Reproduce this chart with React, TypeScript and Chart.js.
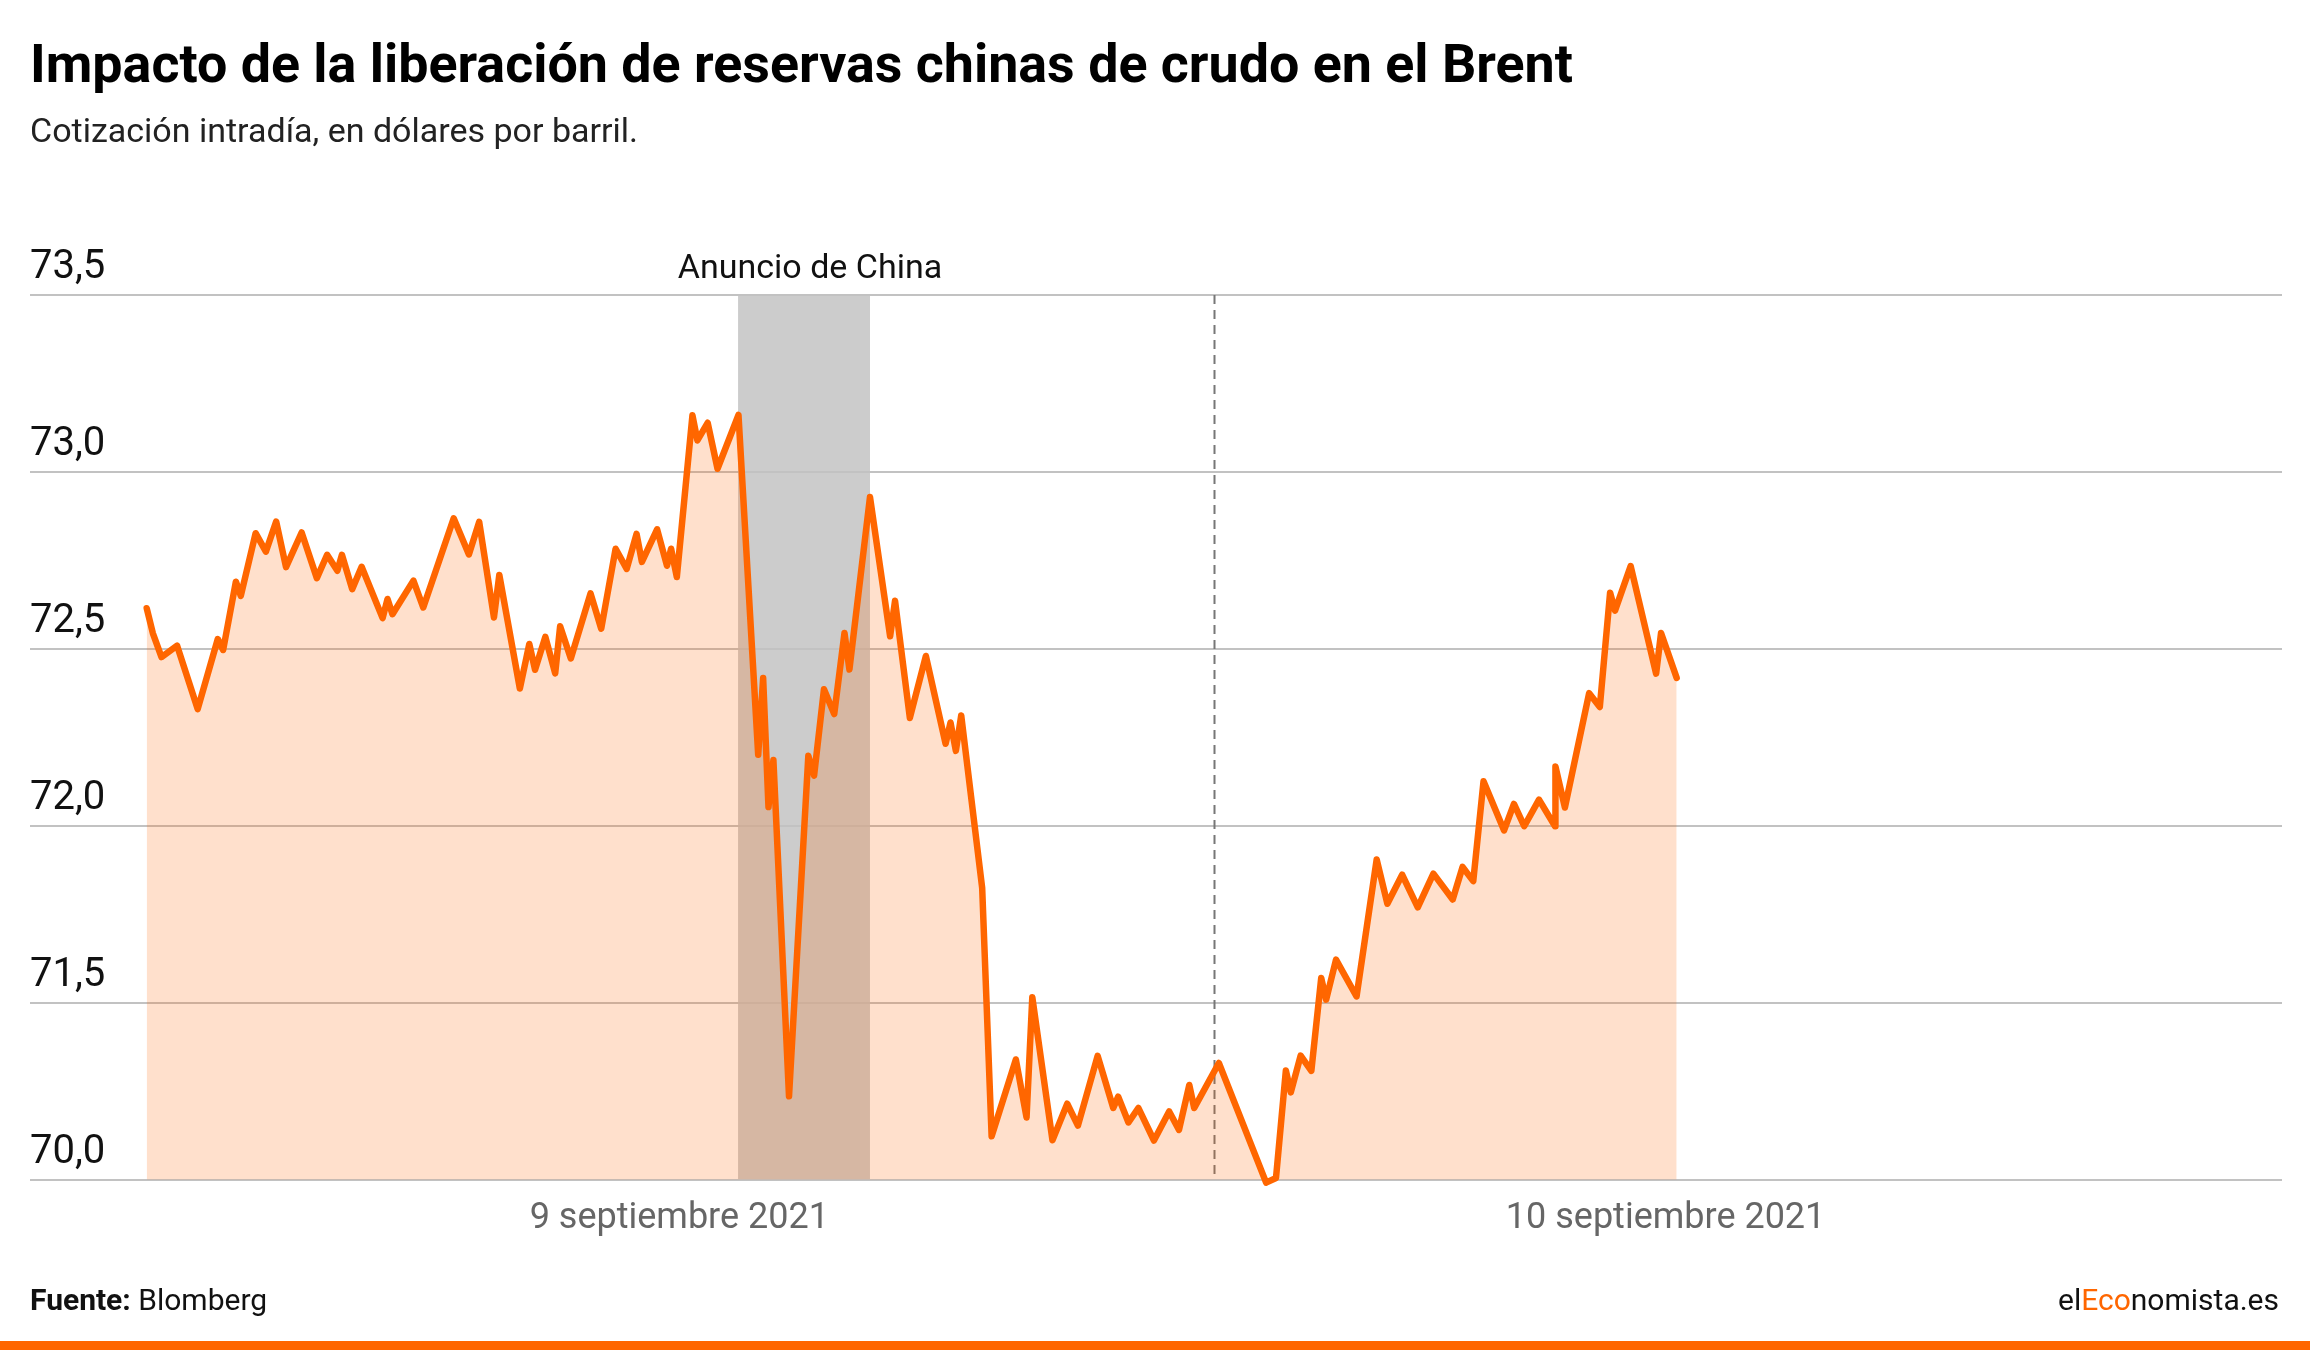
import React, { useEffect, useRef } from "react";
import { Chart, registerables } from "chart.js";

Chart.register(...registerables);

// Hours counted from 9 Sept 2021 00:00
const hours = [
  -1.96, -1.81, -1.6, -1.22, -0.72, -0.23, -0.1, 0.21, 0.33, 0.69,
  0.94, 1.19, 1.43, 1.81, 2.18, 2.43, 2.68, 2.79, 3.04, 3.27,
  3.78, 3.9, 4.02, 4.53, 4.77, 5.51, 5.88, 6.13, 6.49, 6.62,
  7.12, 7.35, 7.49, 7.74, 7.98, 8.1, 8.36, 8.84, 9.1, 9.45,
  9.72, 9.96, 10.09, 10.46, 10.7, 10.8, 10.94, 11.32, 11.44, 11.69,
  11.93, 12.44, 12.92, 13.04, 13.17, 13.29, 13.67, 14.14, 14.28, 14.52,
  14.77, 15.02, 15.14, 15.64, 16.13, 16.25, 16.61, 17.0, 17.48, 17.6,
  17.73, 17.86, 18.37, 18.6, 19.19, 19.45, 19.59, 20.08, 20.44, 20.7,
  21.18, 21.56, 21.68, 21.93, 22.17, 22.55, 22.92, 23.16, 23.41, 23.53,
  24.13, 25.28, 25.52, 25.76, 25.88, 26.12, 26.38, 26.62, 26.74, 26.98,
  27.48, 27.97, 28.23, 28.59, 28.97, 29.35, 29.82, 30.06, 30.32, 30.57,
  31.07, 31.31, 31.56, 31.92, 32.31, 32.32, 32.55, 33.14, 33.4, 33.65,
  33.77, 34.15, 34.77, 34.89, 35.27,
];

const brent = [
  72.615, 72.544, 72.477, 72.509, 72.33, 72.528, 72.497, 72.69, 72.65, 72.827,
  72.775, 72.86, 72.731, 72.829, 72.7, 72.766, 72.721, 72.766, 72.669, 72.732,
  72.587, 72.641, 72.598, 72.693, 72.617, 72.869, 72.767, 72.859, 72.589, 72.709,
  72.388, 72.514, 72.441, 72.534, 72.431, 72.564, 72.473, 72.657, 72.557, 72.783,
  72.726, 72.825, 72.746, 72.838, 72.735, 72.783, 72.703, 73.16, 73.089, 73.139,
  73.009, 73.161, 72.201, 72.418, 72.053, 72.186, 71.236, 72.198, 72.142, 72.386,
  72.316, 72.545, 72.442, 72.929, 72.536, 72.636, 72.305, 72.48, 72.232, 72.292,
  72.212, 72.312, 71.825, 71.123, 71.34, 71.176, 71.516, 71.112, 71.215, 71.153,
  71.35, 71.203, 71.235, 71.162, 71.203, 71.111, 71.193, 71.141, 71.268, 71.203,
  71.33, 70.992, 71.005, 71.309, 71.247, 71.351, 71.308, 71.57, 71.509, 71.622,
  71.518, 71.905, 71.78, 71.862, 71.77, 71.865, 71.792, 71.884, 71.844, 72.126,
  71.987, 72.062, 71.999, 72.074, 71.999, 72.168, 72.052, 72.375, 72.336, 72.659,
  72.608, 72.734, 72.43, 72.545, 72.418,
];

const yTickValues = [71, 71.5, 72, 72.5, 73, 73.5];
const yTickLabels = ["70,0", "71,5", "72,0", "72,5", "73,0", "73,5"];
const xTickValues = [11, 35];
const xTickLabels = ["9 septiembre 2021", "10 septiembre 2021"];

const announcementStart = 12.43;
const announcementEnd = 15.64;
const announcementLabel = "Anuncio de China";
const dayBreak = 24;

const FONT = "Roboto, 'Noto Sans', sans-serif";

const overlayPlugin = {
  id: "overlays",
  beforeDraw(chart: any) {
    const { ctx, chartArea, scales } = chart;
    const x0 = scales.x.getPixelForValue(announcementStart);
    const x1 = scales.x.getPixelForValue(announcementEnd);
    ctx.save();
    ctx.fillStyle = "#CCCCCC";
    ctx.fillRect(x0, chartArea.top, x1 - x0, chartArea.bottom - chartArea.top);
    ctx.restore();
  },
  beforeDatasetsDraw(chart: any) {
    const { ctx, chartArea, scales } = chart;
    const xd = Math.round(scales.x.getPixelForValue(dayBreak)) + 0.5;
    ctx.save();
    ctx.strokeStyle = "#777777";
    ctx.lineWidth = 2;
    ctx.setLineDash([9, 6]);
    ctx.beginPath();
    ctx.moveTo(xd, chartArea.top);
    ctx.lineTo(xd, chartArea.bottom);
    ctx.stroke();
    ctx.restore();

    const x0 = scales.x.getPixelForValue(announcementStart);
    const x1 = scales.x.getPixelForValue(announcementEnd);
    ctx.save();
    ctx.fillStyle = "#111111";
    ctx.font = `34px ${FONT}`;
    ctx.textAlign = "center";
    ctx.textBaseline = "alphabetic";
    ctx.fillText(announcementLabel, (x0 + x1) / 2 + 6, chartArea.top - 17);
    ctx.restore();
  },
};

function BrentChart() {
  const ref = useRef<HTMLCanvasElement | null>(null);
  useEffect(() => {
    if (!ref.current) return;
    const chart = new Chart(ref.current, {
      type: "line",
      data: {
        datasets: [
          {
            data: hours.map((h, i) => ({ x: h, y: brent[i] })),
            borderColor: "#FF6600",
            borderWidth: 6.5,
            borderJoinStyle: "round",
            borderCapStyle: "round",
            backgroundColor: "rgba(255,102,0,0.2)",
            fill: "start",
            pointRadius: 0,
            tension: 0,
            clip: 12,
          } as any,
        ],
      },
      options: {
        responsive: false,
        animation: false,
        events: [],
        layout: { padding: { left: 30, right: 28, top: 295, bottom: 91 } },
        plugins: {
          legend: { display: false },
          tooltip: { enabled: false },
          title: { display: false },
        },
        scales: {
          x: {
            type: "linear",
            min: -4.8,
            max: 50,
            border: { display: false },
            grid: { display: false, drawTicks: false },
            afterBuildTicks: (axis: any) => {
              axis.ticks = xTickValues.map((v) => ({ value: v }));
            },
            ticks: {
              autoSkip: false,
              maxRotation: 0,
              padding: 18,
              color: "#666666",
              font: { family: FONT, size: 36 },
              callback: (_v: any, i: number) => xTickLabels[i],
            },
          },
          y: {
            type: "linear",
            min: 71,
            max: 73.5,
            border: { display: false },
            grid: { color: "#C2C2C2", lineWidth: 2, drawTicks: false },
            afterBuildTicks: (axis: any) => {
              axis.ticks = yTickValues.map((v) => ({ value: v }));
            },
            ticks: {
              mirror: true,
              padding: 0,
              labelOffset: -27,
              color: "#111111",
              font: { family: FONT, size: 40 },
              callback: (_v: any, i: number) => yTickLabels[i],
            },
          },
        },
      },
      plugins: [overlayPlugin],
    });
    return () => chart.destroy();
  }, []);
  return (
    <canvas
      ref={ref}
      width={2310}
      height={1350}
      style={{ position: "absolute", left: 0, top: 0, width: 2310, height: 1350 }}
    />
  );
}

export default function App() {
  const text: React.CSSProperties = {
    position: "absolute",
    fontFamily: FONT,
    whiteSpace: "nowrap",
    margin: 0,
  };
  return (
    <div
      style={{
        position: "absolute",
        left: 0,
        top: 0,
        width: 2310,
        height: 1350,
        background: "#FFFFFF",
        overflow: "hidden",
      }}
    >
      <BrentChart />
      <div style={{ ...text, left: 30, top: 37, fontSize: 53.8, lineHeight: "53.8px", fontWeight: 700, color: "#000" }}>
        Impacto de la liberación de reservas chinas de crudo en el Brent
      </div>
      <div style={{ ...text, left: 30, top: 113, fontSize: 34, lineHeight: "34px", color: "#222" }}>
        Cotización intradía, en dólares por barril.
      </div>
      <div style={{ ...text, left: 30, top: 1285, fontSize: 30, lineHeight: "30px", color: "#111" }}>
        <b>Fuente:</b> Blomberg
      </div>
      <div style={{ ...text, right: 31, top: 1285, fontSize: 30, lineHeight: "30px", color: "#111" }}>
        el<span style={{ color: "#FF6600" }}>Eco</span>nomista.es
      </div>
      <div style={{ position: "absolute", left: 0, top: 1341, width: 2310, height: 9, background: "#FF6600" }} />
    </div>
  );
}
